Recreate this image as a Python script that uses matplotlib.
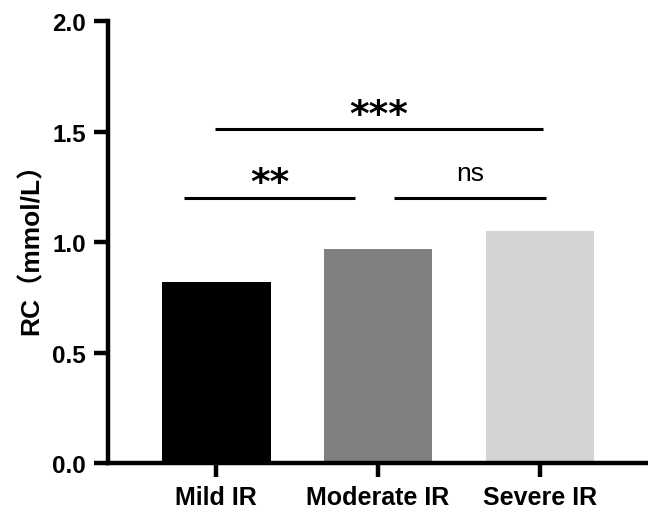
import matplotlib.pyplot as plt

groups = ["Mild IR", "Moderate IR", "Severe IR"]
values = [0.82, 0.97, 1.05]
colors = ["#000000", "#808080", "#D3D3D3"]

# significance brackets: (x start, x end, y, label)
sig_x0 = [-0.20, 1.10, -0.01]
sig_x1 = [0.86, 2.04, 2.02]
sig_y = [1.20, 1.20, 1.51]
sig_text = ["**", "ns", "***"]

plt.rcParams['font.family'] = ['Liberation Sans', 'Noto Sans CJK SC', 'DejaVu Sans']

fig = plt.figure(figsize=(6.48, 5.10), dpi=100)
ax = fig.add_axes([0.1667, 0.0902, 0.8333, 0.8666])

x = range(len(groups))
ax.bar(x, values, width=0.67, color=colors, edgecolor='none')

ax.set_xlim(-0.67, 2.67)
ax.set_ylim(0, 2.0)
ax.set_yticks([0.0, 0.5, 1.0, 1.5, 2.0])
ax.set_yticklabels(["0.0", "0.5", "1.0", "1.5", "2.0"], fontsize=17.5, fontweight='bold')
ax.set_xticks(list(x))
ax.set_xticklabels(groups, fontsize=18, fontweight='bold')

for s in ['top', 'right']:
    ax.spines[s].set_visible(False)
for s in ['left', 'bottom']:
    ax.spines[s].set_linewidth(3.2)
ax.tick_params(axis='both', width=3.2, length=10)
ax.tick_params(axis='y', pad=6)
ax.tick_params(axis='x', pad=6)

ax.set_ylabel("RC（mmol/L）", fontsize=19, fontweight='bold', labelpad=6)

for x0, x1, y, t in zip(sig_x0, sig_x1, sig_y, sig_text):
    ax.plot([x0, x1], [y, y], color='black', linewidth=2.2, solid_capstyle='butt')
    xm = (x0 + x1) / 2
    if t == "ns":
        ax.text(xm, y + 0.06, t, fontsize=19, ha='center', va='bottom')
    else:
        ax.text(xm, y - 0.015, t, fontsize=27, fontweight='bold', ha='center', va='bottom',
                family='DejaVu Sans')

fig.savefig("out.png", dpi=100)
